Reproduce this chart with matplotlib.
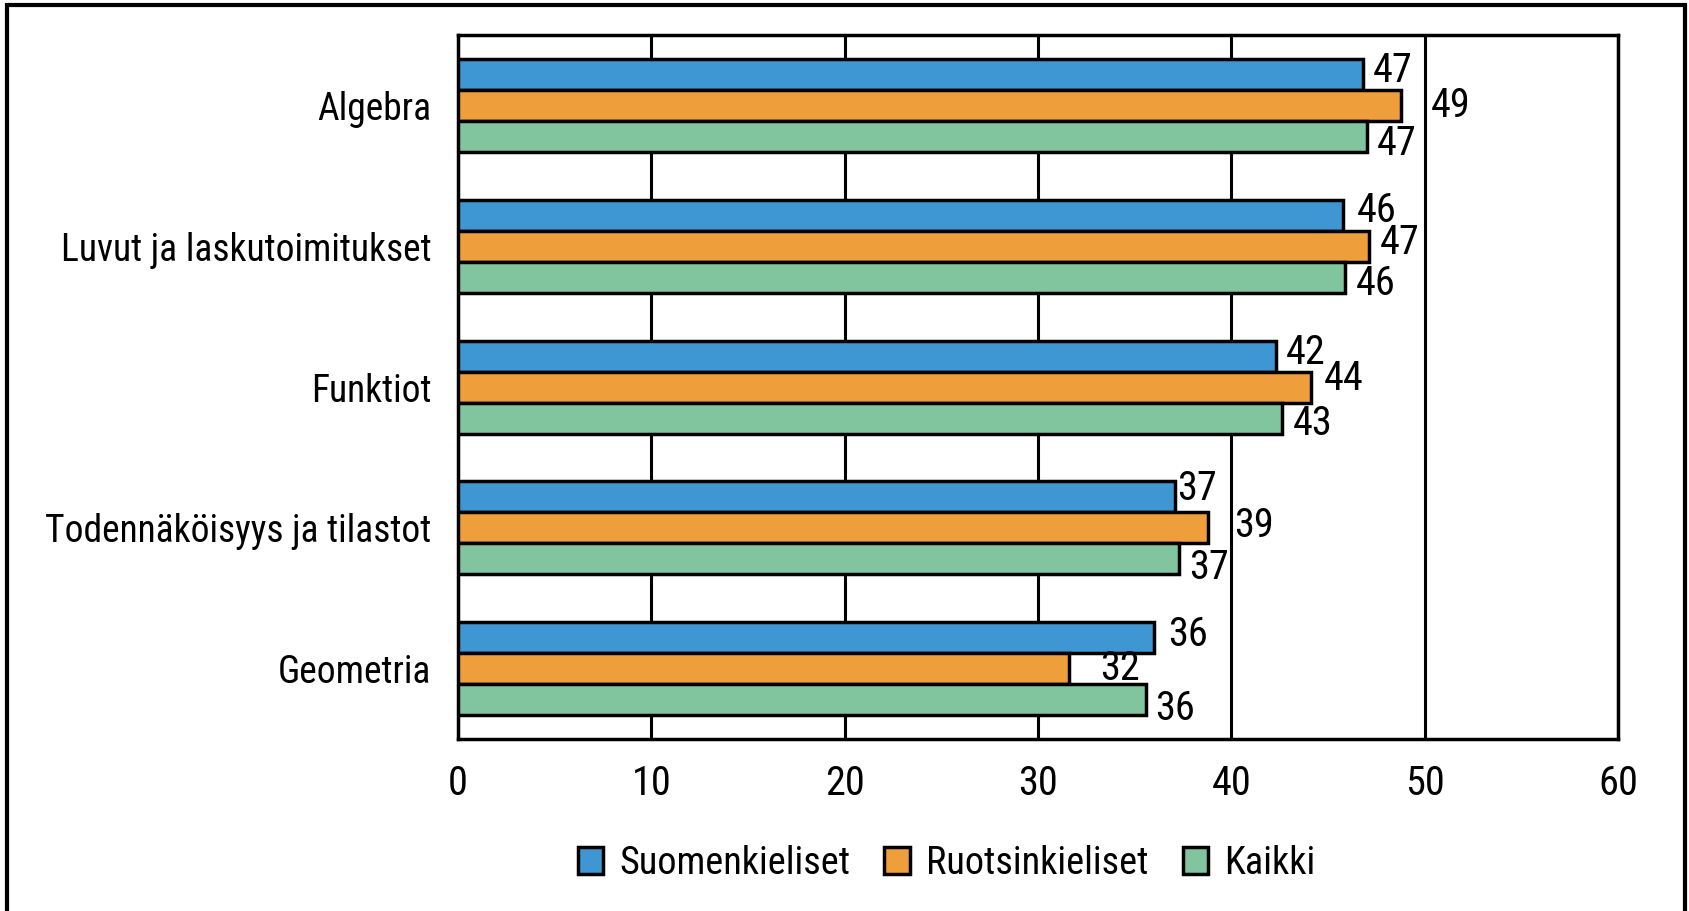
import matplotlib
matplotlib.use("Agg")
import matplotlib.pyplot as plt
from matplotlib import font_manager as fm
from matplotlib.patches import Rectangle
import numpy as np

installed = {f.name for f in fm.fontManager.ttflist}
narrow_choices = ["Arial Narrow", "Liberation Sans Narrow", "Roboto Condensed",
                  "Archivo Narrow", "Pragati Narrow"]
family = [n for n in narrow_choices if n in installed][:1] + ["Liberation Sans", "DejaVu Sans"]
plt.rcParams['font.family'] = family

categories = ["Algebra", "Luvut ja laskutoimitukset", "Funktiot",
              "Todennäköisyys ja tilastot", "Geometria"]
series_names = ["Suomenkieliset", "Ruotsinkieliset", "Kaikki"]
suomenkieliset = [46.8, 45.8, 42.3, 37.1, 36.0]
ruotsinkieliset = [48.8, 47.1, 44.1, 38.8, 31.6]
kaikki = [47.0, 45.9, 42.6, 37.3, 35.6]
x_ticks = [0, 10, 20, 30, 40, 50, 60]

colors = ["#3E96D2", "#EE9F3B", "#80C59E"]

# hand-placed label nudges (x in value units, y in category units)
label_dx = [[0.5, 0.7, 0.5, 0.1, 0.75],
            [1.5, 0.6, 0.7, 1.35, 1.6],
            [0.5, 0.55, 0.6, 0.5, 0.45]]
label_dy = [[-0.03, -0.035, -0.03, -0.06, -0.02],
            [0.0, -0.025, -0.06, -0.02, 0.0],
            [0.045, 0.045, 0.04, 0.06, 0.06]]

fig = plt.figure(figsize=(16.9, 9.11), dpi=100)
ax = fig.add_axes([0.271, 0.1888, 0.6864, 0.7723])

h = 0.22
y = np.arange(len(categories))
series = [suomenkieliset, ruotsinkieliset, kaikki]
for k, (vals, col) in enumerate(zip(series, colors)):
    pos = y + (k - 1) * h
    ax.barh(pos, vals, height=h, color=col, edgecolor="black",
            linewidth=2.5, label=series_names[k], zorder=3)
    for i, v in enumerate(vals):
        ax.text(v + label_dx[k][i], pos[i] + label_dy[k][i], f"{v:.0f}",
                ha="left", va="center", fontsize=29, zorder=4)

ax.set_xlim(0, 60)
ax.set_ylim(len(categories) - 0.5, -0.5)
ax.set_xticks(x_ticks)
ax.set_xticklabels([str(t) for t in x_ticks])
ax.set_yticks(y)
ax.set_yticklabels(categories)
ax.tick_params(axis="x", length=0, labelsize=29, pad=18)
ax.tick_params(axis="y", length=0, labelsize=27, pad=19)
ax.grid(axis="x", color="black", linewidth=2.2, zorder=0)
for s in ax.spines.values():
    s.set_linewidth(2.5)
    s.set_color("black")

handles, labels = ax.get_legend_handles_labels()
leg = fig.legend(handles, labels, loc="center", bbox_to_anchor=(0.560, 0.052),
                 ncol=3, frameon=False, fontsize=27.5, handlelength=0.66,
                 handleheight=0.7, handletextpad=0.42, columnspacing=0.9)
for p in leg.get_patches():
    p.set_linewidth(2.5)

# outer frame of the figure (open at the bottom edge)
fig.patches.append(Rectangle((7.5 / 1690, -0.05), (1685 - 7.5) / 1690, 1.05 - 5.5 / 911,
                             transform=fig.transFigure, fill=False,
                             edgecolor="black", linewidth=3))

fig.savefig("out.png", dpi=100, facecolor="white")
